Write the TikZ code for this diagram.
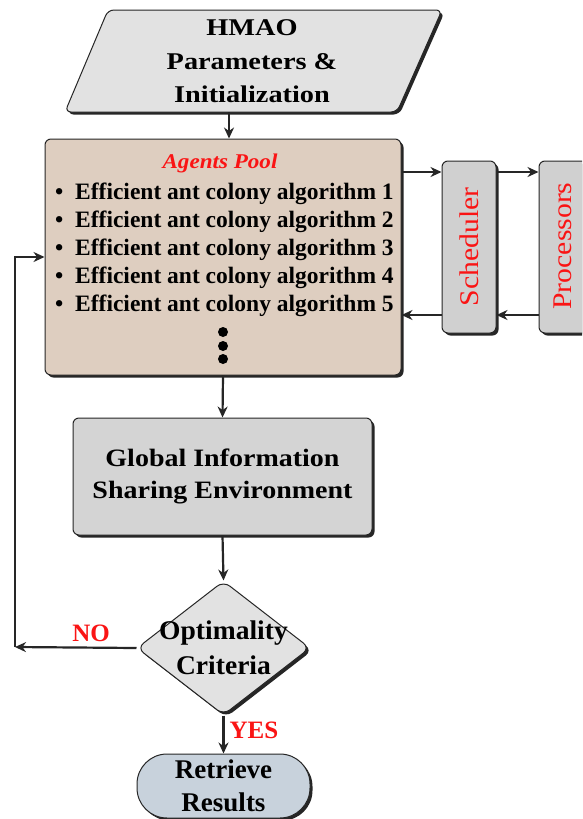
\documentclass[tikz,border=0pt]{standalone}
\usepackage{graphicx}
\usepackage{fontspec}
\setmainfont{Liberation Serif}
\usetikzlibrary{shapes.geometric,shadows,arrows.meta,calc}
\definecolor{pgray}{RGB}{226,226,226}
\definecolor{beige}{RGB}{222,206,192}
\definecolor{ggray}{RGB}{212,212,212}
\definecolor{sgray}{RGB}{208,208,208}
\definecolor{tblue}{RGB}{200,210,220}
\definecolor{lred}{RGB}{250,20,20}
\newcommand{\wx}[2]{\scalebox{#1}[1]{#2}}
\begin{document}
\begin{tikzpicture}[x=1pt,y=-1pt,
  shad/.style={drop shadow={shadow xshift=2.5pt,shadow yshift=-2.5pt,opacity=1,fill=black!85}},
  box/.style={draw=black!85,line width=1pt,rounded corners=6pt,shad},
  arr/.style={draw=black!85,line width=2.2pt,-{Stealth[length=11pt,width=10pt]}},
  lbl/.style={text=lred,font=\bfseries\fontsize{25}{25}\selectfont,inner sep=0pt},
  itemtxt/.style={anchor=base west,inner sep=0pt,font=\bfseries\fontsize{23.5}{28}\selectfont}]
\useasboundingbox (0,0) rectangle (582,819);
\clip (0,0) rectangle (582,819);
\fill[white] (0,0) rectangle (582,819);

% input parallelogram
\draw[box, fill=pgray] (108,10) -- (442,10) -- (397,112) -- (65,112) -- cycle;
\node[align=center, font=\bfseries\fontsize{24}{33.5}\selectfont] (hmao) at (252,61.5)
  {\wx{1.18}{HMAO}\\\wx{1.18}{Parameters \&}\\\wx{1.18}{Initialization}};
\coordinate (hmaob) at (229,112);

% agents pool
\node[box, fill=beige, minimum width=356pt, minimum height=236pt] (pool) at (223,257) {};
\node[font=\bfseries\itshape\fontsize{21}{21}\selectfont, text=lred] (pooltitle) at (220,163) {\wx{1.1}{Agents Pool}};
\foreach \i in {1,...,5} {
  \node[itemtxt] (item\i) at (48,{199.5+28*(\i-1)}) {\makebox[27pt][l]{\hspace{7pt}•}Efficient ant colony algorithm \i};
}
\foreach \i/\y in {1/332,2/346,3/359} {
  \node[circle, fill=black, minimum size=10pt, inner sep=0pt] (dot\i) at (223,\y) {};
}

% scheduler and processors
\node[box, fill=sgray, minimum width=54pt, minimum height=172pt] (sched) at (469,247) {};
\node[rotate=90, text=lred, font=\fontsize{27}{27}\selectfont] (schedtxt) at (sched) {\wx{1.1}{Scheduler}};
\node[box, fill=sgray, minimum width=54pt, minimum height=172pt] (proc) at (566,247) {};
\node[rotate=90, text=lred, font=\fontsize{27}{27}\selectfont] (proctxt) at (563,246) {\wx{1.1}{Processors}};

% global information
\node[box, fill=ggray, minimum width=299pt, minimum height=117pt, align=center,
      font=\bfseries\fontsize{25}{32}\selectfont] (glob) at (222.5,476.5)
  {\wx{1.12}{Global Information}\\\wx{1.12}{Sharing Environment}};

% decision
\node[diamond, draw=black!85, line width=1pt, fill=pgray, rounded corners=8pt,
      minimum width=173pt, minimum height=134pt, inner sep=0pt, shad] (crit) at (223.5,648) {};
\node[align=center, font=\bfseries\fontsize{27}{35}\selectfont] (crittxt) at (223.5,647.5)
  {\wx{1.02}{Optimality}\\\wx{1.02}{Criteria}};

% terminal
\node[box, rounded corners=30pt, fill=tblue, minimum width=173pt, minimum height=64pt, align=center,
      font=\bfseries\fontsize{27}{33}\selectfont] (term) at (223.5,786) {Retrieve\\Results};

% connectors
\draw[arr] (hmaob) -- (hmaob |- pool.north);
\draw[arr] (pool.south) -- (glob.north);
\draw[arr] (glob.south) -- (crit.north);
\draw[arr] (crit.south) -- (term.north);
\coordinate (loopc) at (15,647);
\draw[arr] (crit.west) -- (loopc);
\draw[arr] (loopc) |- (pool.west);
\coordinate (ytop) at (0,172);
\coordinate (ybot) at (0,315);
\draw[arr] (pool.east |- ytop) -- (sched.west |- ytop);
\draw[arr] (sched.east |- ytop) -- (proc.west |- ytop);
\draw[arr] (proc.west |- ybot) -- (sched.east |- ybot);
\draw[arr] (sched.west |- ybot) -- (pool.east |- ybot);

% labels
\node[lbl] (no) at (91,633) {NO};
\node[lbl] (yes) at (254,730) {YES};
\end{tikzpicture}
\end{document}
